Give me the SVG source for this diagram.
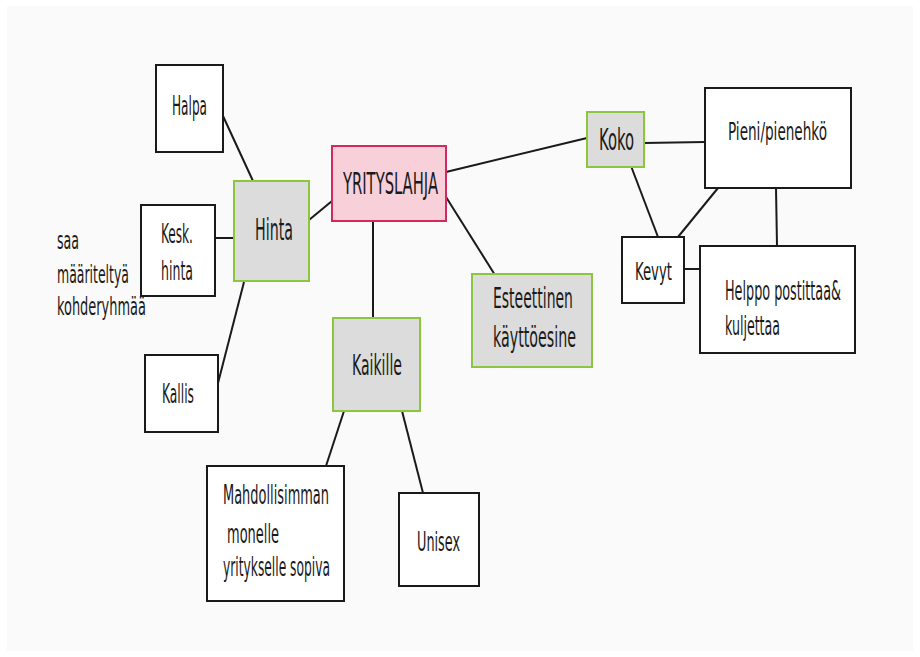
<svg xmlns="http://www.w3.org/2000/svg" width="920" height="657" viewBox="0 0 920 657">
<style>
.bx{fill:#ffffff;stroke:#1a1a1a;stroke-width:2}
.gr{fill:#dcdcdc;stroke:#8cc63f;stroke-width:2}
.pk{fill:#f7d0da;stroke:#d4295a;stroke-width:2}
.t{font-family:"Liberation Sans Narrow","DejaVu Sans Condensed","Liberation Sans",Arial,sans-serif;fill:#1a1a1a}
#connectors line{stroke:#1a1a1a;stroke-width:2}
</style>
<rect x="0" y="0" width="920" height="657" fill="#ffffff"/>
<rect x="7" y="6" width="906" height="645" fill="#fafafa"/>
<g id="connectors">
<line x1="223" y1="116" x2="253" y2="181"/>
<line x1="215" y1="238" x2="234" y2="238"/>
<line x1="244" y1="282" x2="217" y2="387"/>
<line x1="309" y1="220" x2="332" y2="201"/>
<line x1="446" y1="172" x2="587" y2="138"/>
<line x1="446" y1="197" x2="495" y2="275"/>
<line x1="373" y1="221" x2="373" y2="318"/>
<line x1="644" y1="143" x2="705" y2="142"/>
<line x1="631" y1="166" x2="658" y2="237"/>
<line x1="718" y1="188" x2="678" y2="237"/>
<line x1="776" y1="188" x2="777" y2="246"/>
<line x1="684" y1="269" x2="700" y2="269"/>
<line x1="344" y1="411" x2="326" y2="466"/>
<line x1="402" y1="411" x2="423" y2="493"/>
</g>
<g id="halpa"><rect class="bx" x="156" y="65" width="67" height="87"/><text class="t" transform="translate(172,115) scale(0.6,1)" font-size="26" textLength="58.3" lengthAdjust="spacingAndGlyphs">Halpa</text></g>
<g id="hinta"><rect class="gr" x="234" y="181" width="75" height="100"/><text class="t" transform="translate(255,240) scale(0.6,1)" font-size="31" textLength="63.3" lengthAdjust="spacingAndGlyphs">Hinta</text></g>
<g id="kesk"><rect class="bx" x="141" y="205" width="74" height="91"/><text class="t" transform="translate(161,243) scale(0.6,1)" font-size="27" textLength="53.3" lengthAdjust="spacingAndGlyphs">Kesk.</text><text class="t" transform="translate(161,280) scale(0.6,1)" font-size="27" textLength="53.3" lengthAdjust="spacingAndGlyphs">hinta</text></g>
<g id="kallis"><rect class="bx" x="145" y="355" width="73" height="77"/><text class="t" transform="translate(162,403) scale(0.6,1)" font-size="27" textLength="53.3" lengthAdjust="spacingAndGlyphs">Kallis</text></g>
<g id="note"><text class="t" transform="translate(57,249) scale(0.6,1)" font-size="24" textLength="36.7" lengthAdjust="spacingAndGlyphs">saa</text><text class="t" transform="translate(57,283) scale(0.6,1)" font-size="24" textLength="120" lengthAdjust="spacingAndGlyphs">määriteltyä</text><text class="t" transform="translate(57,315) scale(0.6,1)" font-size="24" textLength="148.3" lengthAdjust="spacingAndGlyphs">kohderyhmää</text></g>
<g id="yrityslahja"><rect class="pk" x="332" y="146" width="114" height="75"/><text class="t" transform="translate(343,194) scale(0.6,1)" font-size="30" textLength="158.3" lengthAdjust="spacingAndGlyphs">YRITYSLAHJA</text></g>
<g id="koko"><rect class="gr" x="587" y="112" width="57" height="55"/><text class="t" transform="translate(599,150) scale(0.6,1)" font-size="30" textLength="58.3" lengthAdjust="spacingAndGlyphs">Koko</text></g>
<g id="esteettinen"><rect class="gr" x="472" y="274" width="120" height="93"/><text class="t" transform="translate(493,308) scale(0.6,1)" font-size="28" textLength="133.3" lengthAdjust="spacingAndGlyphs">Esteettinen</text><text class="t" transform="translate(493,347) scale(0.6,1)" font-size="28" textLength="138.3" lengthAdjust="spacingAndGlyphs">käyttöesine</text></g>
<g id="pieni"><rect class="bx" x="705" y="88" width="146" height="100"/><text class="t" transform="translate(728,140) scale(0.6,1)" font-size="25" textLength="165" lengthAdjust="spacingAndGlyphs">Pieni/pienehkö</text></g>
<g id="kevyt"><rect class="bx" x="622" y="237" width="62" height="66"/><text class="t" transform="translate(635,280) scale(0.6,1)" font-size="24" textLength="61.7" lengthAdjust="spacingAndGlyphs">Kevyt</text></g>
<g id="helppo"><rect class="bx" x="700" y="246" width="155" height="107"/><text class="t" transform="translate(725,300) scale(0.6,1)" font-size="27" textLength="193.3" lengthAdjust="spacingAndGlyphs">Helppo postittaa&amp;</text><text class="t" transform="translate(725,335) scale(0.6,1)" font-size="27" textLength="91.7" lengthAdjust="spacingAndGlyphs">kuljettaa</text></g>
<g id="kaikille"><rect class="gr" x="333" y="318" width="87" height="93"/><text class="t" transform="translate(352,375) scale(0.6,1)" font-size="29" textLength="83.3" lengthAdjust="spacingAndGlyphs">Kaikille</text></g>
<g id="mahdollisimman"><rect class="bx" x="207" y="466" width="137" height="135"/><text class="t" transform="translate(223,504) scale(0.6,1)" font-size="26" textLength="176.7" lengthAdjust="spacingAndGlyphs">Mahdollisimman</text><text class="t" transform="translate(227,543) scale(0.6,1)" font-size="26" textLength="86.7" lengthAdjust="spacingAndGlyphs">monelle</text><text class="t" transform="translate(223,576) scale(0.6,1)" font-size="26" textLength="178.3" lengthAdjust="spacingAndGlyphs">yritykselle sopiva</text></g>
<g id="unisex"><rect class="bx" x="399" y="493" width="80" height="93"/><text class="t" transform="translate(417,551) scale(0.6,1)" font-size="27" textLength="71.7" lengthAdjust="spacingAndGlyphs">Unisex</text></g>
</svg>
